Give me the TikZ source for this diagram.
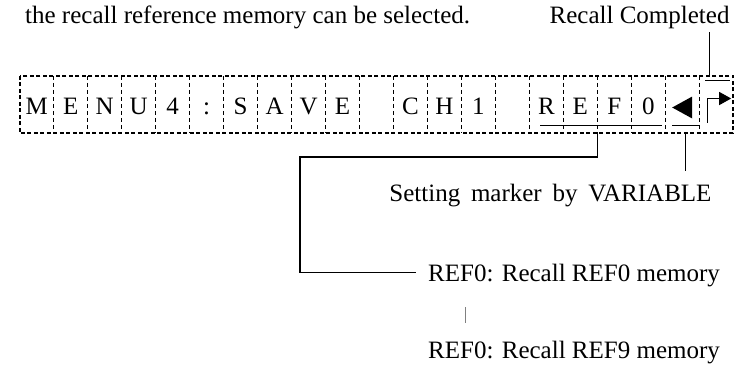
\documentclass[tikz,border=0pt]{standalone}
\usepackage{fontspec}
\setmainfont{Liberation Serif}
\usetikzlibrary{positioning,arrows.meta}
\begin{document}
\begin{tikzpicture}[x=1pt,y=-1pt,font=\fontsize{25}{30}\selectfont]
	\tikzset{cell/.style={minimum width=33.57pt,minimum height=57pt,inner sep=0pt,
	                      text height=20pt,text depth=0pt},
	         frame/.style={line width=1.8pt,dash pattern=on 4pt off 2.5pt},
	         divider/.style={line width=1.1pt,dash pattern=on 4pt off 3pt},
	         lead/.style={line width=1.3pt},
	         ref/.style={anchor=base west,inner xsep=12pt,text depth=0pt}}
	\useasboundingbox (0,0) rectangle (745,365);
	\node[anchor=base west,inner sep=0pt] (note) at (25,23) {the recall reference memory can be selected.};
	\node[anchor=base east] (done) at (733,23) {Recall Completed};
	\node[cell] (c1) at (36.79,104.5) {M};
	\node[cell,right=0pt of c1] (c2) {E};   \node[cell,right=0pt of c2] (c3) {N};
	\node[cell,right=0pt of c3] (c4) {U};   \node[cell,right=0pt of c4] (c5) {4};
	\node[cell,right=0pt of c5] (c6) {:};   \node[cell,right=0pt of c6] (c7) {S};
	\node[cell,right=0pt of c7] (c8) {A};   \node[cell,right=0pt of c8] (c9) {V};
	\node[cell,right=0pt of c9] (c10) {E};  \node[cell,right=0pt of c10] (c11) {};
	\node[cell,right=0pt of c11] (c12) {C}; \node[cell,right=0pt of c12] (c13) {H};
	\node[cell,right=0pt of c13] (c14) {1}; \node[cell,right=0pt of c14] (c15) {};
	\node[cell,right=0pt of c15] (c16) {R}; \node[cell,right=0pt of c16] (c17) {E};
	\node[cell,right=0pt of c17] (c18) {F}; \node[cell,right=0pt of c18] (c19) {0};
	\node[cell,right=0pt of c19] (c20) {};  \node[cell,right=0pt of c20] (c21) {};
	\draw[frame] (c1.north west) rectangle (c21.south east);
	\foreach \i in {1,...,20} \draw[divider] (c\i.north east) -- (c\i.south east);
	\draw[lead] ([shift={(11pt,8pt)}]c16.south west) -- ([shift={(-3pt,8pt)}]c19.south east);
	\draw[lead] ([shift={(7pt,8pt)}]c20.south west) -- ([shift={(0pt,8pt)}]c20.south east);
	\fill ([shift={(-10pt,-3pt)}]c20.center) -- ([shift={(10pt,8pt)}]c20.center)
	      -- ([shift={(10pt,-14pt)}]c20.center) -- cycle;
	\draw[lead] ([shift={(-11pt,24pt)}]c21.center) -- ([shift={(14pt,24pt)}]c21.center);
	\draw[lead,-{Triangle[length=12pt,width=13pt]}] ([shift={(-9pt,-18pt)}]c21.center)
	      |- ([shift={(15pt,6pt)}]c21.center);
	\coordinate (rc) at ([xshift=-7pt]c21.north);
	\draw[lead] (rc) -- (rc |- done.south);
	\node[anchor=base east,inner ysep=12pt] (marker) at (715,201)
	      {Setting\hspace{.43em}marker\hspace{.43em}by\hspace{.43em}VARIABLE};
	\coordinate (sm) at ([xshift=3pt]c20.south);
	\draw[lead] (sm) -- (sm |- marker.north);
	\node[ref] (ref0) at (416,281) {REF0: Recall REF0 memory};
	\node[ref] (ref9) at (416,358) {REF0: Recall REF9 memory};
	\coordinate (turn) at (300,157);
	\draw[lead] (c17.south east) |- (turn) |- (ref0.west);
	\draw[line width=0.6pt,gray] ([shift={(49pt,-26pt)}]ref0.base west) -- ++(0,16);
\end{tikzpicture}
\end{document}
